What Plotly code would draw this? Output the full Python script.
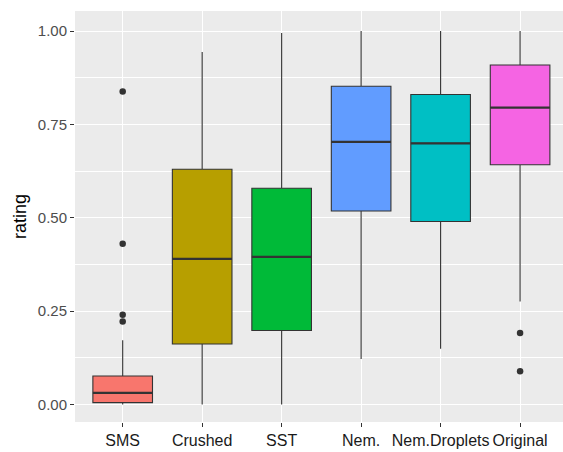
import plotly.graph_objects as go

categories = ["SMS", "Crushed", "SST", "Nem.", "Nem.Droplets", "Original"]
colors = ["#F8766D", "#B79F00", "#00BA38", "#619CFF", "#00BFC4", "#F564E3"]
q1 = [0.005, 0.162, 0.198, 0.518, 0.490, 0.642]
median = [0.031, 0.390, 0.395, 0.703, 0.699, 0.795]
q3 = [0.076, 0.630, 0.579, 0.852, 0.830, 0.909]
lower = [0.0, 0.0, 0.0, 0.122, 0.149, 0.276]
upper = [0.172, 0.944, 0.995, 1.0, 1.0, 1.0]
outlier_cat = ["SMS", "SMS", "SMS", "SMS", "Original", "Original"]
outlier_val = [0.838, 0.430, 0.240, 0.222, 0.191, 0.089]

fig = go.Figure()
for i, c in enumerate(categories):
    fig.add_trace(go.Box(
        x=[c], q1=[q1[i]], median=[median[i]], q3=[q3[i]],
        lowerfence=[lower[i]], upperfence=[upper[i]],
        fillcolor=colors[i], line=dict(color="#333333", width=1.1),
        whiskerwidth=0, width=0.75, boxpoints=False, showlegend=False,
        hoverinfo="skip",
    ))
    fig.add_shape(type="line", xref="x", yref="y",
                  x0=i - 0.375, x1=i + 0.375, y0=median[i], y1=median[i],
                  line=dict(color="#333333", width=2.2), layer="above")

fig.add_trace(go.Scatter(
    x=outlier_cat, y=outlier_val, mode="markers",
    marker=dict(color="#333333", size=6.5), showlegend=False, hoverinfo="skip"))

fig.update_layout(
    width=563, height=452,
    margin=dict(l=75, r=0, t=11, b=30),
    paper_bgcolor="white", plot_bgcolor="#EBEBEB",
    boxmode="overlay",
    font=dict(family="Liberation Sans, Arial, sans-serif"),
)
fig.update_xaxes(
    type="category", categoryorder="array", categoryarray=categories,
    range=[-0.6, 5.54], showgrid=True, gridcolor="white", gridwidth=1.1,
    zeroline=False, ticks="outside", ticklen=4, tickcolor="#333333",
    tickfont=dict(size=16, color="#1a1a1a"), showline=False,
    tickangle=0, automargin=False,
)
fig.update_yaxes(
    range=[-0.047, 1.0536], tickvals=[0, 0.25, 0.5, 0.75, 1.0],
    ticktext=["0.00", "0.25", "0.50", "0.75", "1.00"],
    showgrid=True, gridcolor="white", gridwidth=1.1, zeroline=False,
    minor=dict(tickvals=[0.125, 0.375, 0.625, 0.875], showgrid=True,
               gridcolor="white", gridwidth=0.55, ticks=""),
    ticks="outside", ticklen=4, tickcolor="#333333",
    tickfont=dict(size=15, color="#4D4D4D"), automargin=False,
    title=dict(text="rating", font=dict(size=18, color="black"), standoff=6),
)

fig.write_html("out.html", config={"displayModeBar": False},
               post_script="document.body.style.margin='0';document.body.style.padding='0';")
